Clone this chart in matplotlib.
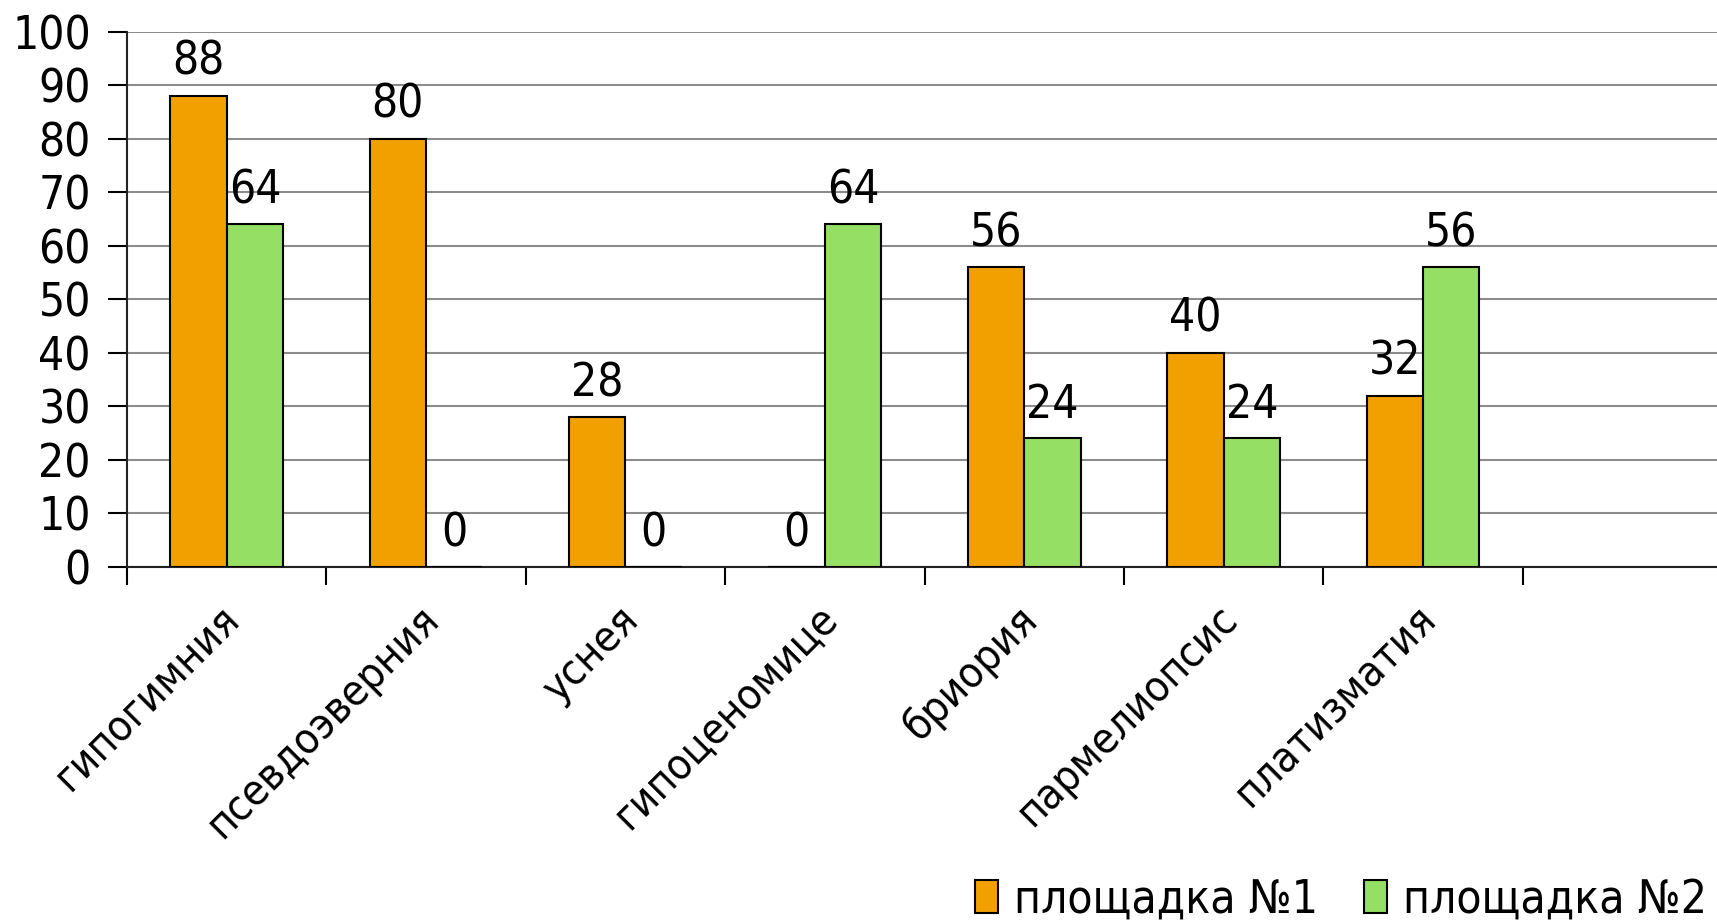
import matplotlib
matplotlib.use("Agg")
import matplotlib.pyplot as plt
import matplotlib.transforms as mtransforms
import numpy as np
from matplotlib.patches import Patch

categories = ["гипогимния", "псевдоэверния", "уснея", "гипоценомице",
              "бриория", "пармелиопсис", "платизматия"]
site1 = [88, 80, 28, 0, 56, 40, 32]
site2 = [64, 0, 0, 64, 24, 24, 56]
series_names = ["площадка №1", "площадка №2"]
yticks = list(range(0, 101, 10))
n_slots = 8

c1 = "#F2A000"
c2 = "#95DF65"

plt.rcParams['font.family'] = ['DejaVu Sans']
plt.rcParams['font.stretch'] = 'condensed'
FS = 33

fig = plt.figure(figsize=(17.17, 9.22), dpi=100)
ax = fig.add_axes([127/1717, 1-567/922, (1722-127)/1717, (567-31.5)/922])

x = np.arange(len(categories))
w = 0.283
b1 = ax.bar(x - w/2, site1, w, color=c1, edgecolor="black", linewidth=1.5, zorder=3)
b2 = ax.bar(x + w/2, site2, w, color=c2, edgecolor="black", linewidth=1.5, zorder=3)

for bars, vals in ((b1, site1), (b2, site2)):
    for rect, v in zip(bars, vals):
        ax.annotate(str(v), (rect.get_x() + rect.get_width()/2, v),
                    xytext=(0, 15), textcoords="offset points",
                    ha="center", va="baseline", fontsize=FS, zorder=4)

ax.set_xlim(-0.5, n_slots - 0.5)
ax.set_ylim(0, 100)
ax.set_yticks(yticks)
ax.set_yticklabels([str(t) for t in yticks], fontsize=FS)
ax.tick_params(axis='y', direction='out', length=14, width=1.5, pad=12)
ax.grid(axis='y', color="#8c8c8c", linewidth=1.5, zorder=0)

# boundaries as major ticks, category labels as minor ticks
ax.set_xticks(np.arange(n_slots + 1) - 0.5)
ax.set_xticklabels([])
ax.tick_params(axis='x', which='major', direction='out', length=13, width=1.5)
ax.set_xticks(x, minor=True)
ax.set_xticklabels(categories, minor=True, rotation=45, ha='right',
                   rotation_mode='anchor', fontsize=FS - 2)
ax.tick_params(axis='x', which='minor', length=0, pad=22)
shift = mtransforms.ScaledTranslation(-8/100, 0, fig.dpi_scale_trans)
for lbl in ax.get_xticklabels(minor=True):
    lbl.set_transform(lbl.get_transform() + shift)

for s in ("top", "right"):
    ax.spines[s].set_visible(False)
ax.spines["left"].set_linewidth(1.5)
ax.spines["bottom"].set_linewidth(1.5)
ax.spines["left"].set_color("#222222")
ax.spines["bottom"].set_color("#222222")

handles = [Patch(facecolor=c1, edgecolor="black", linewidth=1.5),
           Patch(facecolor=c2, edgecolor="black", linewidth=1.5)]
fig.legend(handles, series_names, loc="center right", bbox_to_anchor=(1.018, 1-900/922),
           ncol=2, frameon=False, fontsize=FS, handlelength=0.5, handleheight=0.75,
           handletextpad=0.35, columnspacing=1.0)

fig.savefig("out.png", dpi=100)
